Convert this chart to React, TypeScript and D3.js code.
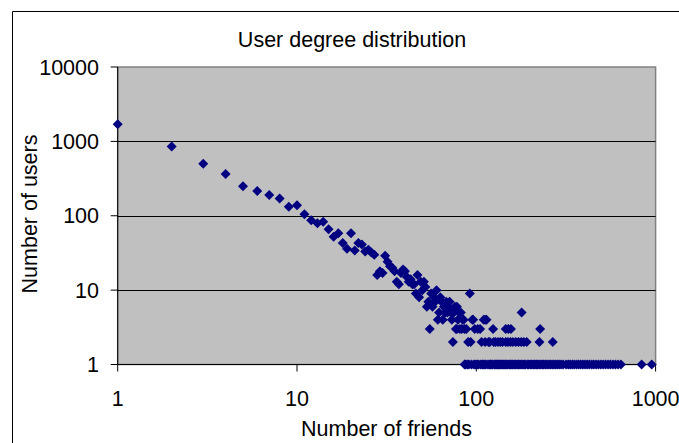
import React from "react";
import * as d3 from "d3";

const title = "User degree distribution";
const xTitle = "Number of friends";
const yTitle = "Number of users";
const xTicks = [1, 10, 100, 1000];
const yTicks = [1, 10, 100, 1000, 10000];

// degree (number of friends) and count (number of users)
const degrees = [
  1, 2, 3, 4, 5, 6, 7, 8, 9, 10, 11, 12, 13, 14, 15, 16, 17, 18, 19, 20,
  21, 22, 23, 24, 25, 26, 27, 28, 29, 30, 31, 32, 33, 34, 35, 36, 37, 38, 39, 40,
  41, 42, 43, 44, 45, 46, 47, 48, 49, 50, 51, 52, 53, 54, 55, 56, 57, 58, 59, 60,
  61, 62, 63, 64, 65, 66, 67, 68, 69, 70, 71, 72, 73, 74, 75, 76, 77, 78, 79, 80,
  81, 82, 83, 84, 85, 88, 90, 92, 93, 95, 98, 102, 105, 110, 114, 124,
];
const users = [
  1700, 850, 500, 365, 250, 215, 190, 170, 132, 138, 105, 87, 79, 83, 66, 52, 58, 43, 36, 58,
  34, 43, 41, 33, 35, 32, 30, 16, 18, 17, 29, 24, 21, 20, 18, 13, 12, 17, 19, 18,
  15, 13, 14, 12, 12, 9, 16, 8, 13, 10, 13, 11, 6, 7, 3, 9, 6, 8, 7, 10,
  4, 5, 8, 7, 4, 6, 5, 7, 5, 6, 7, 5, 4, 2, 5, 6, 3, 6, 4, 5,
  3, 5, 3, 4, 4, 3, 2, 9, 2, 4, 3, 3, 3, 4, 4, 3,
];

// additional points in the low-count rows
const twoDegrees = [107, 112, 117, 119, 125, 128, 132, 136, 140, 146, 150, 155, 160, 166, 172, 178, 184, 191, 225, 267];
const threeDegrees = [78, 86, 146, 151, 156, 227];
const fourDegrees = [96, 112];
const fiveDegrees = [179];
const oneDegrees = [
  86, 87, 89, 91, 94, 97, 99, 101, 103, 106, 108, 109, 111, 113, 116, 118, 120, 121, 123, 126,
  127, 129, 131, 133, 135, 137, 139, 141, 143, 145, 148, 150, 153, 155, 158, 160, 163, 166, 169, 172,
  175, 178, 182, 185, 188, 193, 196, 200, 204, 208, 212, 216, 220, 224, 229, 234, 238, 243, 248, 254,
  259, 265, 271, 277, 283, 290, 297, 305, 317, 326, 334, 343, 352, 362, 372, 382, 393, 404, 415, 427,
  440, 452, 466, 480, 495, 510, 526, 543, 560, 578, 597, 617, 640, 836, 951,
];

const W = 679;
const H = 443;
const font = "'Liberation Sans', Arial, sans-serif";

export default function App() {
  const x = d3.scaleLog().domain([1, 1000]).range([117.7, 655.6]);
  const y = d3.scaleLog().domain([1, 10000]).range([364.5, 67]);

  const points: [number, number][] = [];
  degrees.forEach((d, i) => points.push([d, users[i]]));
  twoDegrees.forEach((d) => points.push([d, 2]));
  threeDegrees.forEach((d) => points.push([d, 3]));
  fourDegrees.forEach((d) => points.push([d, 4]));
  fiveDegrees.forEach((d) => points.push([d, 5]));
  oneDegrees.forEach((d) => points.push([d, 1]));

  const [x0, x1] = x.range();
  const [yb, yt] = y.range();
  const diamond = "M0,-5L5,0L0,5L-5,0Z";

  return (
    <svg
      width={W}
      height={H}
      style={{ position: "absolute", left: 0, top: 0, background: "#fff", overflow: "hidden", display: "block" }}
      fontFamily={font}
    >
      <rect x={0} y={0} width={W} height={H} fill="#fff" />
      <line x1={12.5} x2={W} y1={11.5} y2={11.5} stroke="#000" strokeWidth={1} />
      <line x1={12.5} x2={12.5} y1={11.5} y2={H} stroke="#000" strokeWidth={1} />
      <rect x={x0} y={yt} width={x1 - x0} height={yb - yt} fill="#C0C0C0" stroke="#808080" strokeWidth={1.5} />
      {yTicks.slice(1, -1).map((t) => (
        <line key={"g" + t} x1={x0} x2={x1} y1={Math.round(y(t)) + 0.5} y2={Math.round(y(t)) + 0.5} stroke="#000" strokeWidth={1} />
      ))}
      <line x1={x0} x2={x0} y1={yt} y2={yb} stroke="#000" strokeWidth={1} />
      <line x1={x0} x2={x1} y1={yb} y2={yb} stroke="#000" strokeWidth={1} />
      {yTicks.map((t) => (
        <g key={"yt" + t}>
          <line x1={x0 - 7} x2={x0} y1={y(t)} y2={y(t)} stroke="#000" strokeWidth={1} />
          <text x={99} y={y(t) + 7.5} textAnchor="end" fontSize={21.5} fill="#000">
            {String(t)}
          </text>
        </g>
      ))}
      {xTicks.map((t) => (
        <g key={"xt" + t}>
          <line x1={x(t)} x2={x(t)} y1={yb} y2={yb + 7} stroke="#000" strokeWidth={1} />
          <text x={x(t)} y={406} textAnchor="middle" fontSize={21.5} fill="#000">
            {String(t)}
          </text>
        </g>
      ))}
      {points.map(([d, u], i) => (
        <path key={i} d={diamond} transform={`translate(${x(d)},${y(u)})`} fill="#000080" />
      ))}
      <text x={352} y={47} textAnchor="middle" fontSize={21.5} fill="#000">
        {title}
      </text>
      <text x={386.5} y={436} textAnchor="middle" fontSize={21.5} fill="#000">
        {xTitle}
      </text>
      <text transform="translate(37,214) rotate(-90)" textAnchor="middle" fontSize={21.5} fill="#000">
        {yTitle}
      </text>
    </svg>
  );
}
